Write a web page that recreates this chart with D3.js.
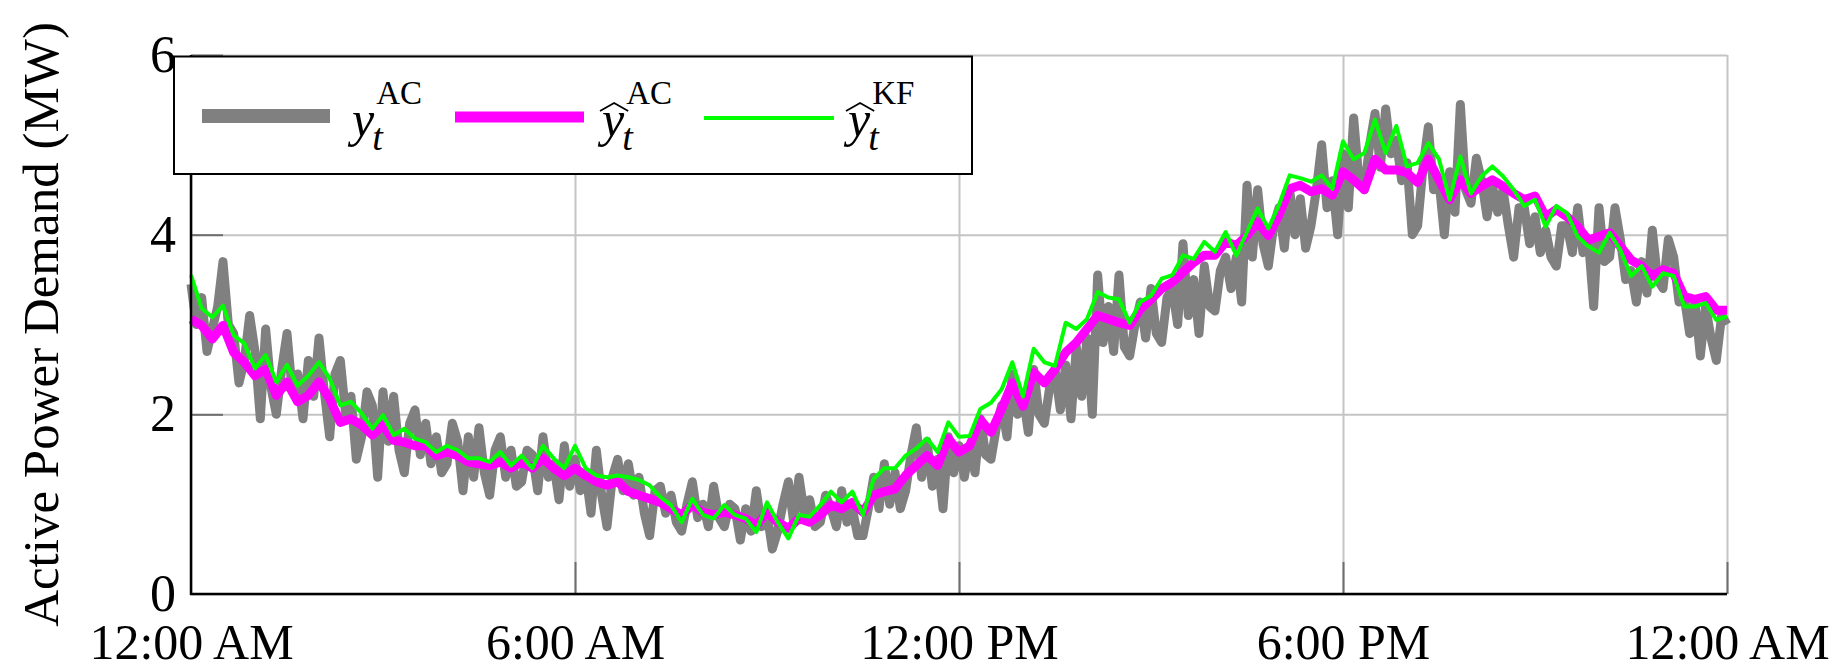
<!DOCTYPE html>
<html>
<head>
<meta charset="utf-8">
<script src="https://cdn.jsdelivr.net/npm/d3@7"></script>
<style>
  body { margin: 0; background: #fff; }
  svg { display: block; }
  text { font-family: "Liberation Serif", "DejaVu Serif", serif; fill: #000; }
</style>
</head>
<body>
<div class="container"></div>
<script>
// measured demand is read every 5 minutes, the two estimates every 10 minutes
const actualStep = 5;
const estimateStep = 10;

// y_t^AC : measured demand (grey), MW
const actual = [
  3.45, 3.0, 3.3, 2.7, 2.95, 3.2, 3.7, 3.0, 2.9, 2.35, 2.6, 3.1, 2.7, 1.95, 2.95, 2.3, 2.0, 2.5, 2.9, 2.25,
  2.45, 1.95, 2.6, 2.2, 2.85, 2.25, 1.75, 2.45, 2.6, 2.0, 2.2, 1.5, 1.75, 2.25, 2.1, 1.3, 2.25, 1.7, 2.2, 1.6,
  1.35, 1.9, 2.05, 1.55, 1.9, 1.45, 1.75, 1.35, 1.45, 1.9, 1.7, 1.15, 1.75, 1.3, 1.85, 1.35, 1.1, 1.6, 1.75, 1.3,
  1.6, 1.2, 1.25, 1.6, 1.55, 1.15, 1.75, 1.3, 1.45, 1.05, 1.65, 1.2, 1.5, 1.15,
  1.35, 0.9, 1.6, 1.1, 0.75, 1.3, 1.5, 1.15, 1.45, 1.1, 1.3, 0.9, 0.65, 1.15, 1.2, 0.9, 1.1, 0.8, 0.7, 1.0,
  1.25, 0.85, 1.0, 0.75, 1.2, 0.85, 0.75, 1.0, 0.95, 0.6, 0.95, 0.7, 1.15, 0.75, 0.9, 0.5, 0.7, 1.0, 1.25, 0.8,
  1.3, 0.9, 1.05, 0.75, 0.8, 1.1, 0.95, 0.75, 1.15, 0.8, 0.95, 0.65, 0.65, 0.95, 1.3, 0.95, 1.45, 1.0, 1.35, 0.95,
  1.15, 1.55, 1.85, 1.3, 1.7, 1.2, 1.5, 0.95, 1.75, 1.35, 1.65, 1.3,
  1.65, 1.35, 1.95, 1.55, 1.5, 1.85, 2.1, 1.75, 2.45, 2.0, 2.2, 1.8, 2.5, 2.0, 1.9, 2.3, 2.5, 2.05, 2.55, 1.95,
  2.75, 2.2, 2.85, 2.0, 3.55, 2.8, 3.2, 2.7, 3.55, 2.75, 2.65, 3.0, 3.25, 2.85, 3.4, 2.9, 2.8, 3.3, 3.4, 3.0,
  3.9, 3.1, 3.5, 2.9, 3.65, 3.2, 3.15, 3.6, 3.75, 3.4, 3.75, 3.25, 4.55, 3.75, 4.5, 3.9, 3.65, 4.1, 4.3, 3.85,
  4.5, 4.0, 4.4, 3.85, 4.1, 4.5, 5.0, 4.3, 4.6, 4.0, 4.9, 4.3,
  5.3, 4.6, 4.5, 5.0, 5.35, 4.75, 5.4, 4.9, 5.05, 4.6, 4.8, 4.0, 4.1, 4.75, 5.2, 4.5, 4.6, 4.0, 4.7, 4.25,
  5.45, 4.5, 4.35, 4.85, 4.6, 4.2, 4.55, 4.25, 4.5, 4.1, 3.75, 4.3, 4.3, 3.9, 4.2, 3.8, 4.05, 3.75, 3.65, 4.1,
  4.1, 3.8, 4.3, 3.8, 3.95, 3.2, 4.3, 3.7, 3.75, 4.3, 3.95, 3.5, 3.6, 3.25, 3.7, 3.35, 4.05, 3.5, 3.4, 3.95,
  3.75, 3.25, 3.3, 2.9, 3.25, 2.65, 3.2, 2.85, 2.6, 3.1, 3.0
];

// hat y_t^AC : AC estimate (magenta), MW
const estimateAC = [
  3.06, 2.99, 2.84, 2.99, 2.69, 2.58, 2.43, 2.50, 2.21, 2.36, 2.14, 2.21, 2.36, 2.17, 1.91, 1.95, 1.88, 1.77, 1.88, 1.71,
  1.69, 1.65, 1.65, 1.54, 1.58, 1.54, 1.47, 1.45, 1.43, 1.47, 1.40, 1.47, 1.40, 1.51, 1.40, 1.32, 1.40,
  1.32, 1.25, 1.21, 1.25, 1.14, 1.10, 1.06, 1.02, 0.95, 0.88, 0.99, 0.91, 0.88, 0.91, 0.88, 0.84, 0.76, 0.91,
  0.80, 0.73, 0.84, 0.80, 0.88, 0.99, 0.95, 1.02, 0.91, 1.10, 1.14, 1.17, 1.32, 1.43, 1.54, 1.43, 1.73, 1.58,
  1.65, 1.94, 1.80, 2.06, 2.35, 2.09, 2.47, 2.35, 2.50, 2.69, 2.80, 2.95, 3.10, 3.06, 3.02, 2.99, 3.17, 3.28,
  3.40, 3.47, 3.58, 3.69, 3.77, 3.77, 3.92, 3.88, 3.99, 4.14, 3.99, 4.22, 4.51, 4.55, 4.48, 4.51, 4.44, 4.70,
  4.61, 4.50, 4.84, 4.72, 4.72, 4.69, 4.58, 4.84, 4.61, 4.39, 4.61, 4.46, 4.54, 4.61, 4.54, 4.46, 4.39, 4.43,
  4.20, 4.28, 4.20, 4.09, 3.94, 3.98, 4.02, 3.87, 3.72, 3.65, 3.54, 3.61, 3.57, 3.31, 3.28, 3.31, 3.16, 3.16
];

// hat y_t^KF : Kalman filter estimate (green), MW
const estimateKF = [
  3.55, 3.18, 3.08, 3.21, 2.88, 2.79, 2.51, 2.66, 2.36, 2.55, 2.32, 2.43, 2.58, 2.40, 2.10, 2.14, 2.01, 1.84, 1.99, 1.77,
  1.84, 1.73, 1.69, 1.58, 1.65, 1.60, 1.51, 1.51, 1.47, 1.58, 1.43, 1.54, 1.40, 1.65, 1.51, 1.40, 1.65,
  1.40, 1.32, 1.30, 1.32, 1.30, 1.27, 1.21, 1.08, 0.99, 0.80, 1.06, 0.88, 0.84, 0.99, 0.88, 0.84, 0.69, 1.02,
  0.80, 0.62, 0.88, 0.86, 0.99, 1.14, 1.02, 1.14, 0.88, 1.28, 1.40, 1.40, 1.54, 1.62, 1.73, 1.58, 1.91, 1.75,
  1.76, 2.06, 2.13, 2.28, 2.58, 2.20, 2.73, 2.58, 2.54, 3.02, 2.95, 3.06, 3.36, 3.30, 3.28, 3.02, 3.25, 3.32,
  3.51, 3.55, 3.77, 3.73, 3.92, 3.81, 4.03, 3.77, 4.03, 4.29, 4.07, 4.33, 4.66, 4.63, 4.59, 4.66, 4.51, 5.04,
  4.84, 4.91, 5.28, 4.91, 5.21, 4.76, 4.80, 5.02, 4.84, 4.39, 4.87, 4.46, 4.65, 4.76, 4.65, 4.50, 4.32, 4.39,
  4.09, 4.32, 4.24, 3.98, 3.87, 3.80, 4.02, 3.83, 3.54, 3.65, 3.42, 3.57, 3.54, 3.20, 3.20, 3.24, 3.05, 3.09
];

const xTicks = [0, 6, 12, 18, 24];
const xTickLabels = ['12:00 AM', '6:00 AM', '12:00 PM', '6:00 PM', '12:00 AM'];
const yTicks = [0, 2, 4, 6];

const W = 1845, H = 671;
const margin = {top: 55, right: 118, bottom: 77, left: 191};

const svg = d3.select('.container')
  .append('svg')
  .attr('width', W)
  .attr('height', H);

const x = d3.scaleLinear().domain([0, 24]).range([margin.left, W - margin.right]);
const y = d3.scaleLinear().domain([0, 6]).range([H - margin.bottom, margin.top]);

// grid
svg.append('g')
  .attr('transform', `translate(0,${H - margin.bottom})`)
  .call(d3.axisBottom(x).tickValues(xTicks).tickSize(-(H - margin.top - margin.bottom)).tickFormat(''))
  .call(g => g.select('.domain').remove())
  .call(g => g.selectAll('line').attr('stroke', '#c4c4c4').attr('stroke-width', 2));

svg.append('g')
  .attr('transform', `translate(${margin.left},0)`)
  .call(d3.axisLeft(y).tickValues(yTicks).tickSize(-(W - margin.left - margin.right)).tickFormat(''))
  .call(g => g.select('.domain').remove())
  .call(g => g.selectAll('line').attr('stroke', '#c4c4c4').attr('stroke-width', 2));

// short inner ticks
svg.append('g')
  .attr('transform', `translate(0,${H - margin.bottom})`)
  .call(d3.axisTop(x).tickValues(xTicks.slice(1)).tickSize(32).tickFormat(''))
  .call(g => g.select('.domain').remove())
  .call(g => g.selectAll('line').attr('stroke', '#6e6e6e').attr('stroke-width', 2));

svg.append('g')
  .attr('transform', `translate(${margin.left},0)`)
  .call(d3.axisRight(y).tickValues(yTicks.slice(1)).tickSize(32).tickFormat(''))
  .call(g => g.select('.domain').remove())
  .call(g => g.selectAll('line').attr('stroke', '#6e6e6e').attr('stroke-width', 2));

// series
const lineEvery = step => d3.line()
  .x((d, i) => x(i * step / 60))
  .y(d => y(d));

svg.append('path').datum(actual)
  .attr('d', lineEvery(actualStep)).attr('fill', 'none')
  .attr('stroke', '#808080').attr('stroke-width', 9).attr('stroke-linejoin', 'round');

svg.append('path').datum(estimateAC)
  .attr('d', lineEvery(estimateStep)).attr('fill', 'none')
  .attr('stroke', '#ff00ff').attr('stroke-width', 9).attr('stroke-linejoin', 'round');

svg.append('path').datum(estimateKF)
  .attr('d', lineEvery(estimateStep)).attr('fill', 'none')
  .attr('stroke', '#00ff00').attr('stroke-width', 4).attr('stroke-linejoin', 'round');

// axis lines (left + bottom)
svg.append('line')
  .attr('x1', margin.left).attr('x2', margin.left)
  .attr('y1', margin.top).attr('y2', H - margin.bottom + 1)
  .attr('stroke', '#000').attr('stroke-width', 2.5);
svg.append('line')
  .attr('x1', margin.left - 1).attr('x2', W - margin.right)
  .attr('y1', H - margin.bottom).attr('y2', H - margin.bottom)
  .attr('stroke', '#000').attr('stroke-width', 2.5);

// tick labels
svg.append('g')
  .attr('transform', `translate(${margin.left},0)`)
  .call(d3.axisLeft(y).tickValues(yTicks).tickSize(0).tickPadding(15).tickFormat(d3.format('d')))
  .call(g => g.select('.domain').remove())
  .call(g => g.selectAll('text').attr('font-family', '"Liberation Serif", serif').attr('font-size', 52).attr('fill', '#000'));

svg.append('g')
  .attr('transform', `translate(0,${H - margin.bottom})`)
  .call(d3.axisBottom(x).tickValues(xTicks).tickSize(0).tickPadding(29).tickFormat((d, i) => xTickLabels[i]))
  .call(g => g.select('.domain').remove())
  .call(g => g.selectAll('text').attr('font-family', '"Liberation Serif", serif').attr('font-size', 50).attr('fill', '#000'));

// y axis title
svg.append('text')
  .attr('transform', `translate(58,${(margin.top + H - margin.bottom) / 2}) rotate(-90)`)
  .attr('text-anchor', 'middle')
  .attr('font-size', 51)
  .text('Active Power Demand (MW)');

// legend
const legend = svg.append('g');
legend.append('rect')
  .attr('x', 174).attr('y', 56.5).attr('width', 798).attr('height', 117.5)
  .attr('fill', '#fff').attr('stroke', '#000').attr('stroke-width', 2);

const legendItems = [
  {color: '#808080', width: 14, x0: 202, x1: 330, cy: 116, tx: 352, hat: false, sup: 'AC'},
  {color: '#ff00ff', width: 11, x0: 455, x1: 584, cy: 117, tx: 602, hat: true, sup: 'AC'},
  {color: '#00ff00', width: 4, x0: 704, x1: 834, cy: 118, tx: 848, hat: true, sup: 'KF'}
];

legendItems.forEach(it => {
  legend.append('line')
    .attr('x1', it.x0).attr('x2', it.x1).attr('y1', it.cy).attr('y2', it.cy)
    .attr('stroke', it.color).attr('stroke-width', it.width);

  const base = 136;
  const main = legend.append('text')
    .attr('x', it.tx).attr('y', base)
    .attr('font-size', 50).attr('font-style', 'italic')
    .text('y');
  const w = main.node().getComputedTextLength();

  legend.append('text')
    .attr('x', it.tx + w - 2).attr('y', base + 14)
    .attr('font-size', 38).attr('font-style', 'italic')
    .text('t');
  legend.append('text')
    .attr('x', it.tx + w + 2).attr('y', base - 32)
    .attr('font-size', 33)
    .text(it.sup);

  if (it.hat) {
    const hx = it.tx - 2, hy = base - 25;
    legend.append('path')
      .attr('d', `M${hx},${hy} L${hx + (w + 6) / 2},${hy - 8} L${hx + w + 6},${hy}`)
      .attr('fill', 'none').attr('stroke', '#000').attr('stroke-width', 1.8);
  }
});
</script>
</body>
</html>
